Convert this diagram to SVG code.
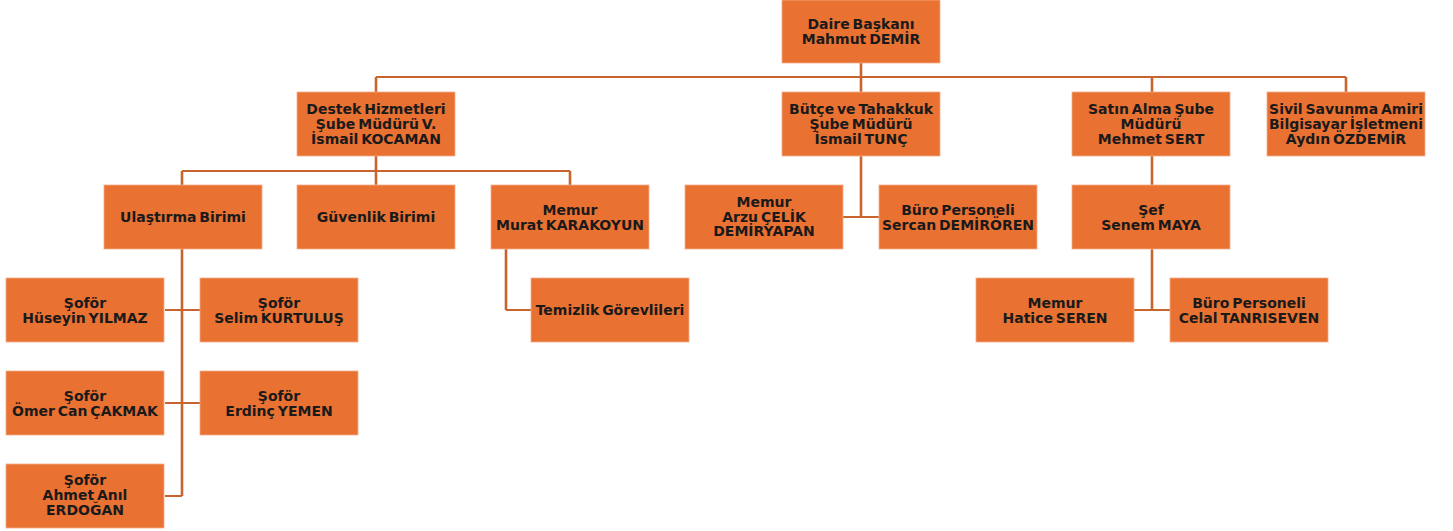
<svg xmlns="http://www.w3.org/2000/svg" width="1453" height="531" viewBox="0 0 1453 531">
<style>
.box{fill:#E97132;stroke:#F3B08A;stroke-width:0.8}
.t{font-family:"DejaVu Sans","Liberation Sans",sans-serif;font-weight:bold;font-size:14px;fill:#1a1a1a;text-anchor:middle;word-spacing:-2px}
.h{fill:none;stroke:#C8652F;stroke-width:2}
.v{fill:none;stroke:#C8652F;stroke-width:2.6}
</style>
<rect width="1453" height="531" fill="#ffffff"/>
<g id="connectors">
<path class="h" d="M376,77 H1346"/>
<path class="v" d="M861,63 V92 M376,77 V92 M1152,77 V92 M1346,77 V92"/>
<path class="h" d="M182,171 H570"/>
<path class="v" d="M376,156 V185 M182,171 V185 M570,171 V185"/>
<path class="v" d="M182,249 V496"/>
<path class="h" d="M165,310 H200 M165,403 H200 M165,496 H182"/>
<path class="v" d="M506,249 V310"/>
<path class="h" d="M506,310 H531"/>
<path class="v" d="M861,156 V217"/>
<path class="h" d="M843,217 H879"/>
<path class="v" d="M1152,156 V185 M1152,249 V310"/>
<path class="h" d="M1134,310 H1170"/>
</g>
<g id="daire"><rect class="box" x="782" y="0" width="158" height="63"/><text class="t" x="861" y="28.5">Daire Başkanı</text><text class="t" x="861" y="43.5">Mahmut DEMİR</text></g>
<g id="destek"><rect class="box" x="297" y="92" width="158" height="64"/><text class="t" x="376" y="114">Destek Hizmetleri</text><text class="t" x="376" y="129">Şube Müdürü V.</text><text class="t" x="376" y="144">İsmail KOCAMAN</text></g>
<g id="butce"><rect class="box" x="782" y="92" width="158" height="64"/><text class="t" x="861" y="114">Bütçe ve Tahakkuk</text><text class="t" x="861" y="129">Şube Müdürü</text><text class="t" x="861" y="144">İsmail TUNÇ</text></g>
<g id="satin"><rect class="box" x="1072" y="92" width="158" height="64"/><text class="t" x="1151" y="114">Satın Alma Şube</text><text class="t" x="1151" y="129">Müdürü</text><text class="t" x="1151" y="144">Mehmet SERT</text></g>
<g id="sivil"><rect class="box" x="1267" y="92" width="158" height="64"/><text class="t" x="1346" y="114">Sivil Savunma Amiri</text><text class="t" x="1346" y="129">Bilgisayar İşletmeni</text><text class="t" x="1346" y="144">Aydın ÖZDEMİR</text></g>
<g id="ulastirma"><rect class="box" x="104" y="185" width="158" height="64"/><text class="t" x="183" y="222">Ulaştırma Birimi</text></g>
<g id="guvenlik"><rect class="box" x="297" y="185" width="158" height="64"/><text class="t" x="376" y="222">Güvenlik Birimi</text></g>
<g id="murat"><rect class="box" x="491" y="185" width="158" height="64"/><text class="t" x="570" y="214.5">Memur</text><text class="t" x="570" y="229.5">Murat KARAKOYUN</text></g>
<g id="arzu"><rect class="box" x="685" y="185" width="158" height="64"/><text class="t" x="764" y="206.5">Memur</text><text class="t" x="764" y="221.5">Arzu ÇELİK</text><text class="t" x="764" y="236">DEMİRYAPAN</text></g>
<g id="sercan"><rect class="box" x="879" y="185" width="158" height="64"/><text class="t" x="958" y="214.5">Büro Personeli</text><text class="t" x="958" y="229.5">Sercan DEMİRÖREN</text></g>
<g id="sef"><rect class="box" x="1072" y="185" width="158" height="64"/><text class="t" x="1151" y="214.5">Şef</text><text class="t" x="1151" y="229.5">Senem MAYA</text></g>
<g id="huseyin"><rect class="box" x="6" y="278" width="158" height="64"/><text class="t" x="85" y="307.5">Şoför</text><text class="t" x="85" y="322.5">Hüseyin YILMAZ</text></g>
<g id="selim"><rect class="box" x="200" y="278" width="158" height="64"/><text class="t" x="279" y="307.5">Şoför</text><text class="t" x="279" y="322.5">Selim KURTULUŞ</text></g>
<g id="temizlik"><rect class="box" x="531" y="278" width="158" height="64"/><text class="t" x="610" y="315">Temizlik Görevlileri</text></g>
<g id="hatice"><rect class="box" x="976" y="278" width="158" height="64"/><text class="t" x="1055" y="307.5">Memur</text><text class="t" x="1055" y="322.5">Hatice SEREN</text></g>
<g id="celal"><rect class="box" x="1170" y="278" width="158" height="64"/><text class="t" x="1249" y="307.5">Büro Personeli</text><text class="t" x="1249" y="322.5">Celal TANRISEVEN</text></g>
<g id="omer"><rect class="box" x="6" y="371" width="158" height="64"/><text class="t" x="85" y="400.5">Şoför</text><text class="t" x="85" y="415.5">Ömer Can ÇAKMAK</text></g>
<g id="erdinc"><rect class="box" x="200" y="371" width="158" height="64"/><text class="t" x="279" y="400.5">Şoför</text><text class="t" x="279" y="415.5">Erdinç YEMEN</text></g>
<g id="ahmet"><rect class="box" x="6" y="464" width="158" height="64"/><text class="t" x="85" y="484.5">Şoför</text><text class="t" x="85" y="499.5">Ahmet Anıl</text><text class="t" x="85" y="515">ERDOĞAN</text></g>
</svg>
